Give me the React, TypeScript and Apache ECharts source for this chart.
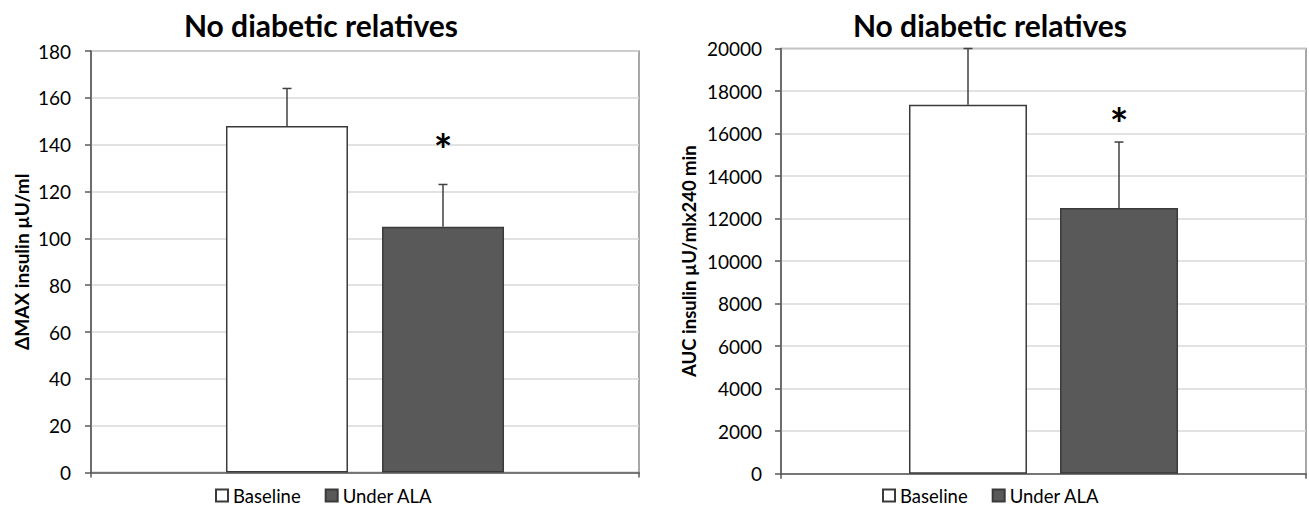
import React, { useEffect, useRef } from "react";
import * as echarts from "echarts";

// ---- data ----
const categories = ["No diabetic relatives"];
const seriesNames = ["Baseline", "Under ALA"];
const panelTitles = ["No diabetic relatives", "No diabetic relatives"];

const deltaMaxMeans = [148, 105];
const deltaMaxUpper = [164, 123];
const deltaMaxStars = [null, 142];
const deltaMaxAxis = { min: 0, max: 180, interval: 20, name: "ΔMAX insulin µU/ml" };

const aucMeans = [17350, 12500];
const aucUpper = [20000, 15600];
const aucStars = [null, 16900];
const aucAxis = { min: 0, max: 20000, interval: 2000, name: "AUC insulin µU/mlx240 min" };

// ---- styles ----
const FONT = "Lato";
const barFill = ["#ffffff", "#595959"];
const barBorder = "#3a3a3a";
const axisColor = "#595959";

type Panel = {
  means: number[];
  upper: number[];
  stars: (number | null)[];
  axis: { min: number; max: number; interval: number; name: string };
  grid: { left: number; right: number; top: number; bottom: number };
  barWidth: number;
  gapPx: number;
  titleX: number;
  legendLeft: number;
  nameGap: number;
  nameSize: number;
  labelMargin: number;
};

const panels: Panel[] = [
  {
    means: deltaMaxMeans,
    upper: deltaMaxUpper,
    stars: deltaMaxStars,
    axis: deltaMaxAxis,
    grid: { left: 91, right: 1309 - 639, top: 51, bottom: 510 - 472.5 },
    barWidth: 122,
    gapPx: 34,
    titleX: 321,
    legendLeft: 215,
    nameGap: 60,
    nameSize: 19,
    labelMargin: 20,
  },
  {
    means: aucMeans,
    upper: aucUpper,
    stars: aucStars,
    axis: aucAxis,
    grid: { left: 781, right: 3, top: 48.5, bottom: 510 - 473.7 },
    barWidth: 118,
    gapPx: 33,
    titleX: 990,
    legendLeft: 882,
    nameGap: 83,
    nameSize: 18.5,
    labelMargin: 19,
  },
];

function buildOption() {
  const grid: any[] = [];
  const xAxis: any[] = [];
  const yAxis: any[] = [];
  const series: any[] = [];
  const title: any[] = [];
  const legend: any[] = [];

  panels.forEach((p, pi) => {
    grid.push({
      ...p.grid,
      show: true,
      borderColor: "#8a8a8a",
      borderWidth: 1.5,
      backgroundColor: "transparent",
    });
    xAxis.push({
      type: "category",
      gridIndex: pi,
      data: categories,
      boundaryGap: true,
      axisLine: { show: true, lineStyle: { color: axisColor, width: 1.5 } },
      axisTick: { show: true, length: 5, lineStyle: { color: axisColor, width: 1.5 } },
      axisLabel: { show: false },
      splitLine: { show: false },
    });
    yAxis.push({
      type: "value",
      gridIndex: pi,
      min: p.axis.min,
      max: p.axis.max,
      interval: p.axis.interval,
      name: p.axis.name,
      nameLocation: "middle",
      nameGap: p.nameGap,
      nameTextStyle: { fontFamily: FONT, fontWeight: "bold", fontSize: p.nameSize, color: "#000" },
      axisLine: { show: true, lineStyle: { color: axisColor, width: 1.5 } },
      axisTick: { show: true, inside: false, length: 6, lineStyle: { color: axisColor, width: 1.5 } },
      axisLabel: {
        fontFamily: FONT,
        fontSize: 19,
        color: "#000",
        margin: p.labelMargin,
        formatter: (v: number) => String(v),
      },
      splitLine: { show: true, lineStyle: { color: "#d9d9d9", width: 1.5 } },
    });
    seriesNames.forEach((name, si) => {
      series.push({
        type: "bar",
        name,
        xAxisIndex: pi,
        yAxisIndex: pi,
        data: [p.means[si]],
        barWidth: p.barWidth,
        barGap: ((p.gapPx / p.barWidth) * 100).toFixed(1) + "%",
        itemStyle: { color: barFill[si], borderColor: barBorder, borderWidth: 1.5 },
      });
    });
    const bw = p.barWidth;
    const gap = p.gapPx;
    const stars = p.stars;
    series.push({
      type: "custom",
      name: "error",
      xAxisIndex: pi,
      yAxisIndex: pi,
      silent: true,
      z: 5,
      data: p.means.map((m, i) => [0, i, m, p.upper[i]]),
      encode: { x: 0, y: [2, 3] },
      renderItem: (params: any, api: any) => {
        const i = api.value(1);
        const base = api.coord([0, api.value(2)]);
        const top = api.coord([0, api.value(3)]);
        const x = base[0] + (i === 0 ? -1 : 1) * (bw + gap) / 2;
        const lineStyle = { stroke: "#404040", lineWidth: 1.5 };
        const children: any[] = [
          { type: "line", shape: { x1: x, y1: base[1], x2: x, y2: top[1] }, style: lineStyle },
          { type: "line", shape: { x1: x - 4.5, y1: top[1], x2: x + 4.5, y2: top[1] }, style: lineStyle },
        ];
        const s = stars[params.dataIndex];
        if (s != null) {
          const sp = api.coord([0, s]);
          children.push({
            type: "text",
            x,
            y: sp[1] + 9,
            style: {
              text: "*",
              fontSize: 44,
              fontWeight: "bold",
              fontFamily: FONT,
              fill: "#000",
              align: "center",
              verticalAlign: "middle",
            },
          });
        }
        return { type: "group", children };
      },
    });
    title.push({
      text: panelTitles[pi],
      left: p.titleX,
      top: 10,
      textAlign: "center",
      padding: 0,
      textStyle: { fontFamily: FONT, fontWeight: "bold", fontSize: 30, color: "#000" },
    });
    legend.push({
      data: seriesNames,
      left: p.legendLeft,
      top: 486,
      padding: 0,
      icon: "rect",
      itemWidth: 12,
      itemHeight: 12,
      itemGap: 24,
      selectedMode: false,
      textStyle: { fontFamily: FONT, fontSize: 18.5, color: "#000" },
    });
  });

  return {
    animation: false,
    backgroundColor: "#ffffff",
    title,
    legend,
    grid,
    xAxis,
    yAxis,
    series,
  };
}

export default function App() {
  const ref = useRef<HTMLDivElement>(null);
  useEffect(() => {
    if (!ref.current) return;
    const chart = echarts.init(ref.current, undefined, { renderer: "svg" });
    chart.setOption(buildOption() as any);
    return () => chart.dispose();
  }, []);
  return (
    <div
      ref={ref}
      style={{ position: "absolute", left: 0, top: 0, width: 1309, height: 510, background: "#fff" }}
    />
  );
}
